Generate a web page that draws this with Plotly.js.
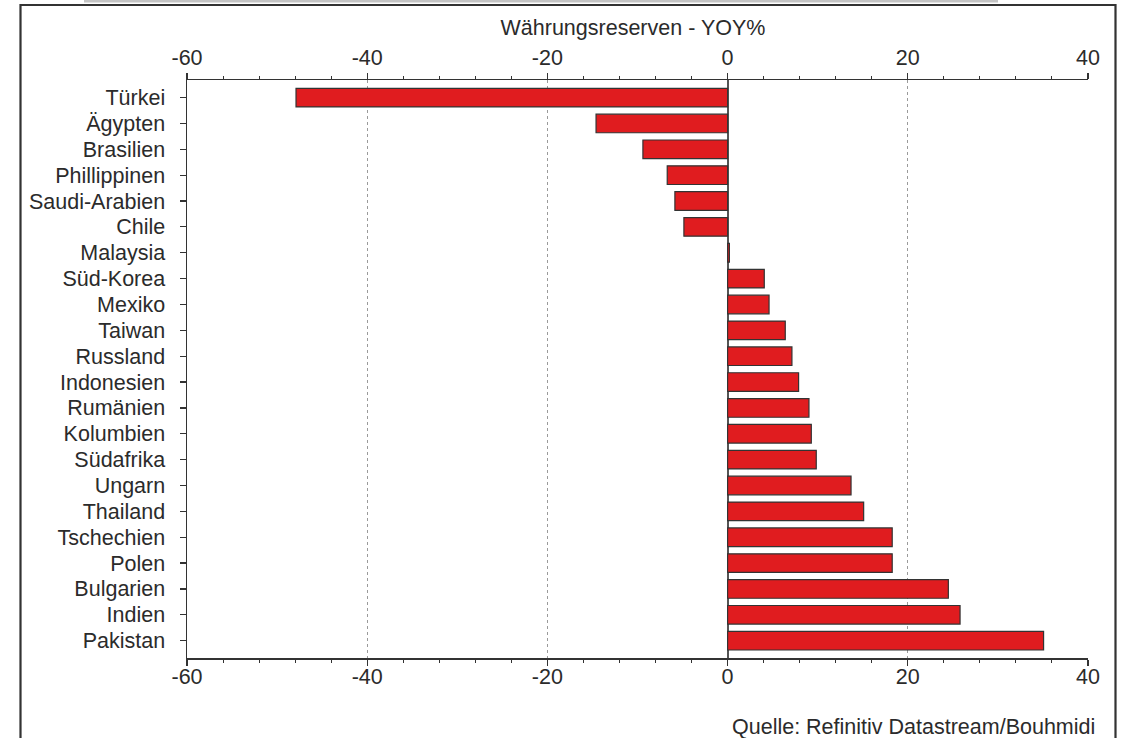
<!DOCTYPE html>
<html>
<head>
<meta charset="utf-8">
<script src="https://cdn.plot.ly/plotly-3.0.1.min.js"></script>
<style>html,body{margin:0;padding:0;background:#fff;}#chart{width:1125px;height:738px;}</style>
</head>
<body>
<div id="chart"></div>
<script>
const countries = ["Türkei","Ägypten","Brasilien","Phillippinen","Saudi-Arabien","Chile","Malaysia","Süd-Korea","Mexiko","Taiwan","Russland","Indonesien","Rumänien","Kolumbien","Südafrika","Ungarn","Thailand","Tschechien","Polen","Bulgarien","Indien","Pakistan"];
const yoyValues = [-47.9,-14.6,-9.4,-6.7,-5.85,-4.85,0.2,4.07,4.6,6.4,7.14,7.88,9.03,9.29,9.84,13.7,15.1,18.27,18.27,24.5,25.8,35.07];
const xTicks = [-60,-40,-20,0,20,40];
const chartTitle = "Währungsreserven - YOY%";
const sourceNote = "Quelle: Refinitiv Datastream/Bouhmidi";

const FONT = "Liberation Sans, Arial, sans-serif";
const TXT = "#2b2b2b";
const FS = 21.5;

const trace = {
  type: "bar",
  orientation: "h",
  y: countries,
  x: yoyValues,
  xaxis: "x",
  yaxis: "y",
  marker: {color: "#e01c1f", line: {color: "#333333", width: 1.2}},
  hoverinfo: "x+y",
  showlegend: false
};

// invisible carrier so the top axis is drawn
const topCarrier = {
  type: "scatter",
  mode: "none",
  y: countries,
  x: yoyValues,
  xaxis: "x2",
  yaxis: "y",
  hoverinfo: "skip",
  showlegend: false
};

const xCommon = {
  range: [-60, 40],
  tickmode: "array",
  tickvals: xTicks,
  ticktext: xTicks.map(String),
  ticks: "outside",
  ticklen: 6,
  tickwidth: 1.2,
  tickcolor: "#333",
  tickfont: {family: FONT, size: FS, color: TXT},
  showline: true,
  linecolor: "#333",
  linewidth: 1.5,
  minor: {dtick: 4, tick0: 0, ticks: "outside", ticklen: 3, tickcolor: "#333", tickwidth: 1, showgrid: false},
  fixedrange: true
};

const layout = {
  width: 1125,
  height: 738,
  margin: {l: 187, r: 37, t: 80, b: 80},
  paper_bgcolor: "#ffffff",
  plot_bgcolor: "#ffffff",
  bargap: 0.28,
  font: {family: FONT, color: TXT, size: FS},
  title: {
    text: chartTitle,
    font: {family: FONT, size: FS, color: TXT},
    x: 0.495, xref: "paper", xanchor: "center",
    y: 1 - 27/738, yref: "container", yanchor: "middle"
  },
  xaxis: Object.assign({}, xCommon, {
    side: "bottom",
    anchor: "y",
    showgrid: true,
    gridcolor: "#9a9a9a",
    griddash: "dot",
    gridwidth: 1,
    zeroline: true,
    zerolinecolor: "#555",
    zerolinewidth: 2,
    ticklabelstandoff: -7
  }),
  xaxis2: Object.assign({}, xCommon, {
    side: "top",
    overlaying: "x",
    anchor: "y",
    showgrid: false,
    zeroline: false,
    ticklabelstandoff: -1
  }),
  yaxis: {
    type: "category",
    categoryorder: "array",
    categoryarray: countries,
    tickmode: "array",
    tickvals: countries,
    ticktext: countries,
    range: [21.67, -0.68],
    ticks: "outside",
    ticklen: 6,
    tickwidth: 1.2,
    tickcolor: "#333",
    tickfont: {family: FONT, size: FS, color: TXT},
    showline: true,
    linecolor: "#333",
    linewidth: 1.5,
    showgrid: false,
    zeroline: false,
    ticklabelstandoff: 10,
    fixedrange: true
  },
  shapes: [
    {type: "rect", xref: "paper", yref: "paper",
     x0: (20.5-187)/901, x1: (1115.5-187)/901,
     y0: -0.2, y1: (658-5)/578,
     line: {color: "#333", width: 2.2}, fillcolor: "rgba(0,0,0,0)", layer: "above"},
    {type: "line", xref: "paper", yref: "paper",
     x0: (84-187)/901, x1: (998-187)/901,
     y0: (658-1)/578, y1: (658-1)/578,
     line: {color: "#c4c4c4", width: 3}}
  ],
  annotations: [
    {text: sourceNote, xref: "paper", yref: "paper",
     x: (1097-187)/901, xanchor: "right",
     y: (658-727)/578, yanchor: "middle",
     showarrow: false, font: {family: FONT, size: FS, color: TXT}}
  ]
};

Plotly.newPlot("chart", [trace, topCarrier], layout, {displayModeBar: false, staticPlot: true});
</script>
</body>
</html>
